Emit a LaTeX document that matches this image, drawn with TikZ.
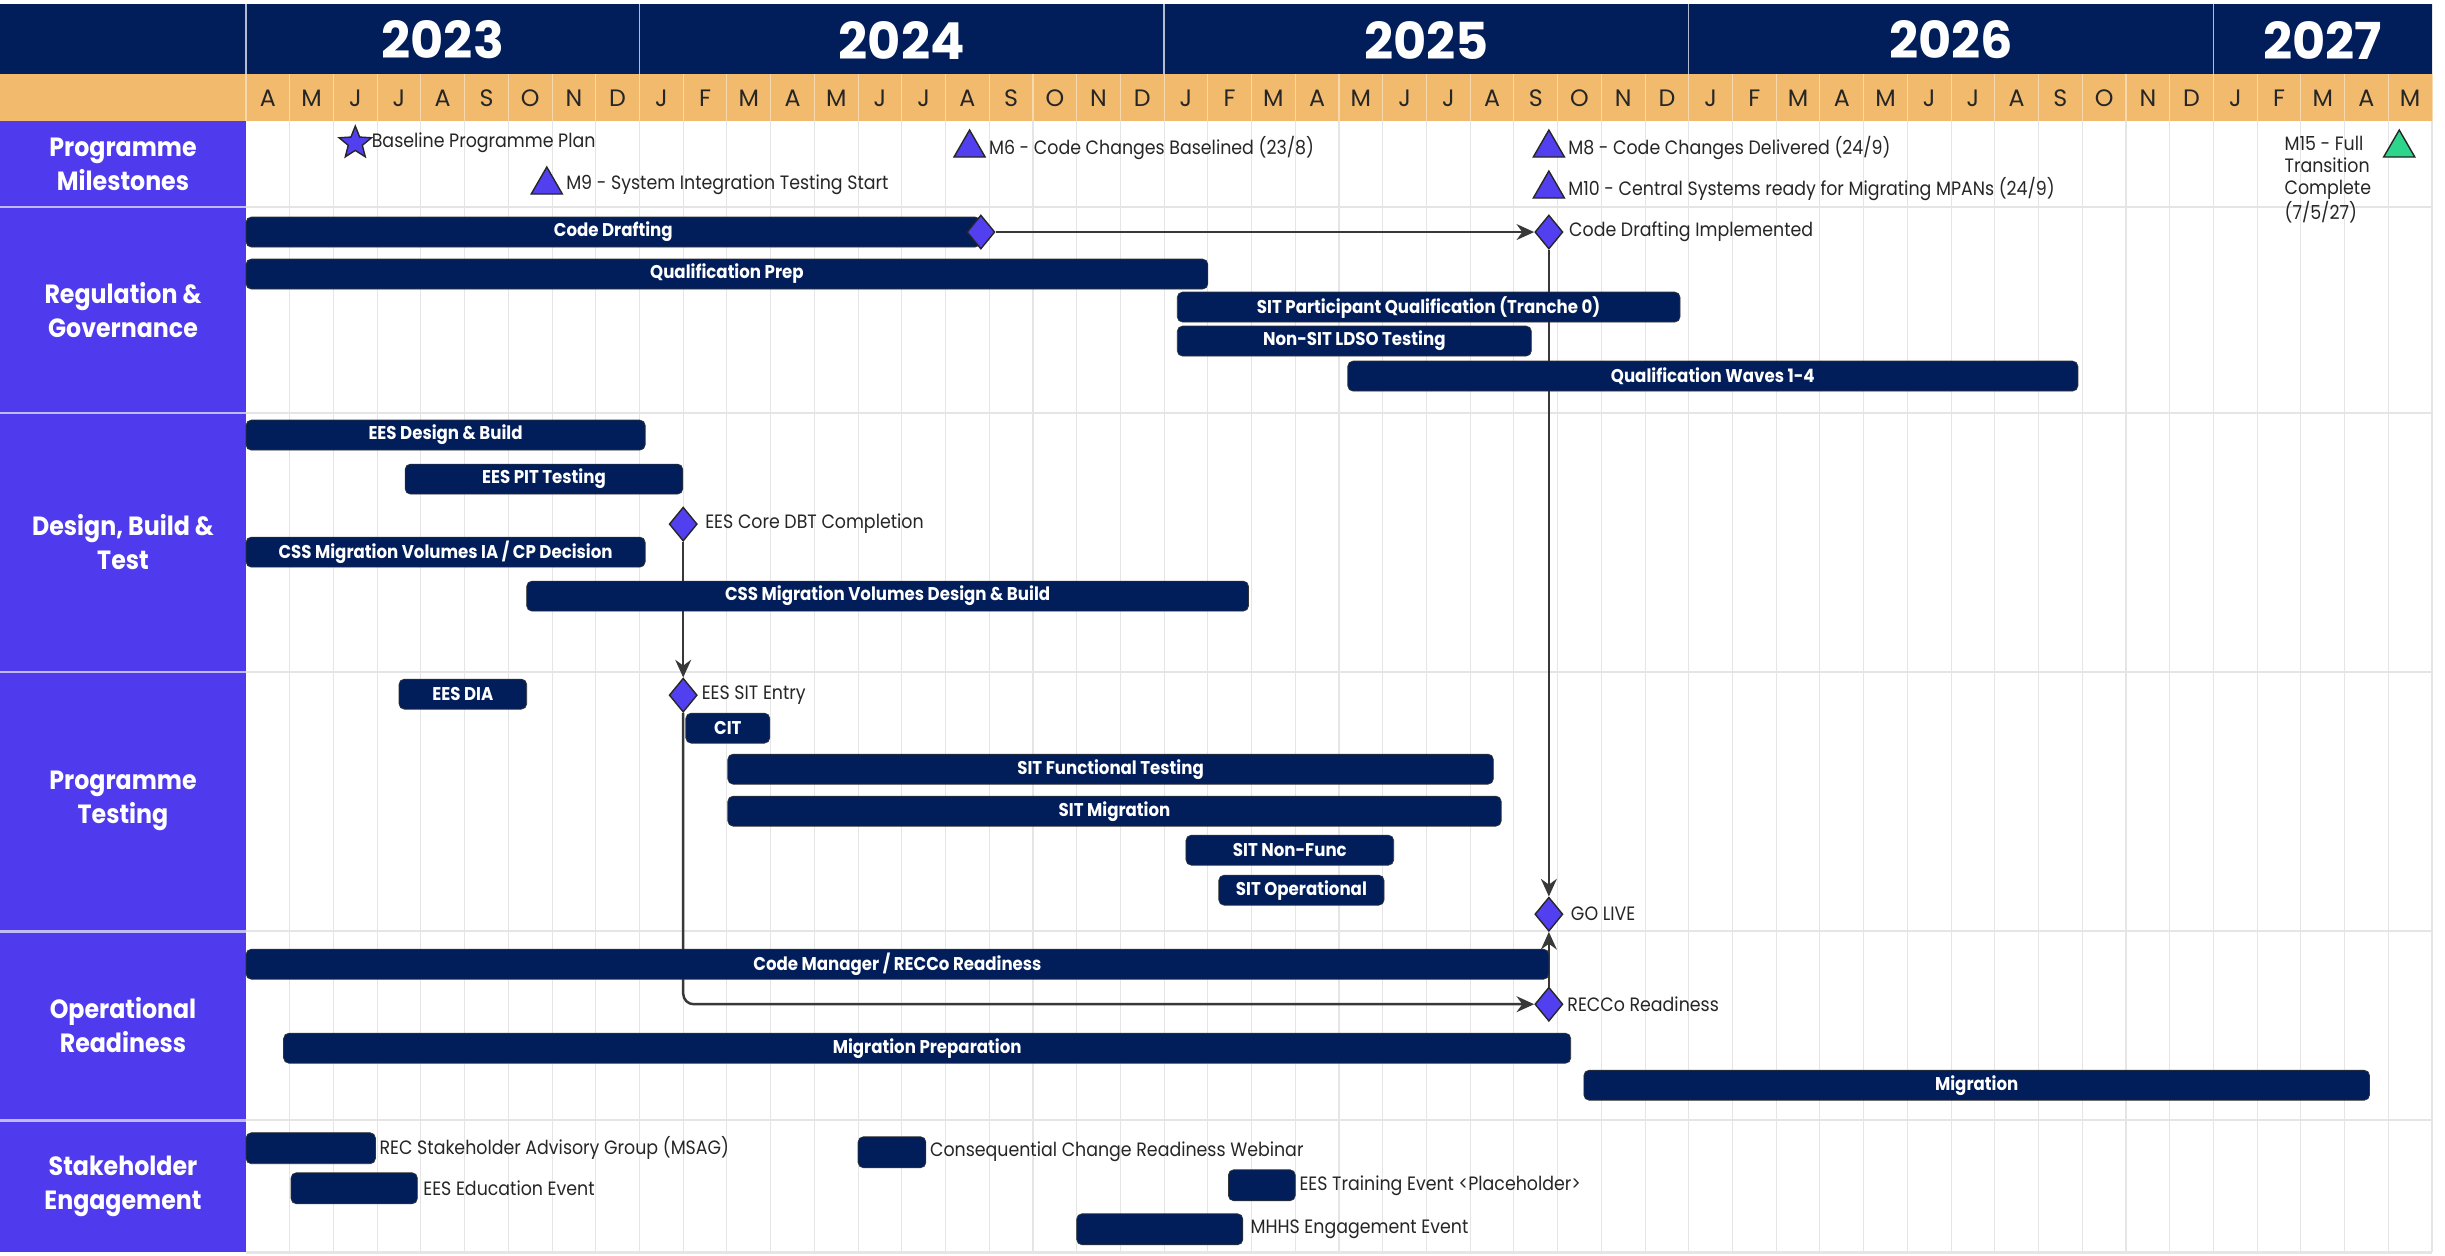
\documentclass[tikz,border=0pt]{standalone}
\usepackage{fontspec}
\setmainfont{Poppins}[FakeStretch=0.9]
\newfontfamily\widefont{Poppins}
\usetikzlibrary{arrows.meta}
\usetikzlibrary{shapes,positioning}
\usetikzlibrary{backgrounds}

\definecolor{navy}{RGB}{1,30,90}
\definecolor{sand}{RGB}{242,186,108}
\definecolor{lanepurple}{RGB}{79,58,237}
\definecolor{gatepurple}{RGB}{82,64,240}
\definecolor{mint}{RGB}{46,214,140}
\definecolor{gridgrey}{RGB}{229,229,229}
\definecolor{linkgrey}{RGB}{56,56,56}

\pgfdeclarelayer{back}
\pgfsetlayers{back,main}

\tikzset{
  lane/.style={text=white,align=center,font=\bfseries\fontsize{15}{19.5}\selectfont},
  year/.style={text=white,font=\widefont\bfseries\fontsize{29}{32}\selectfont},
  month/.style={text=black!85,font=\widefont\fontsize{13.5}{15}\selectfont},
  task/.style={draw=black!80,fill=navy,text=white,rounded corners=3pt,minimum height=0.6cm,inner sep=0pt,font=\bfseries\fontsize{10.5}{12}\selectfont},
  event/.style={task,minimum height=0.62cm},
  months/.style={minimum width=#1*0.8744cm},
  note/.style={text=black!85,inner sep=1pt,font=\fontsize{11}{12.4}\selectfont},
  gate/.style={diamond,draw=black!85,fill=gatepurple,line width=0.8pt,minimum width=0.56cm,minimum height=0.68cm,inner sep=0pt},
  flag/.style={regular polygon,regular polygon sides=3,draw=black!85,fill=gatepurple,line width=0.8pt,minimum size=0.72cm,inner sep=0pt},
  plan/.style={star,star points=5,star point ratio=2.3,draw=black!85,fill=gatepurple,line width=0.8pt,minimum size=0.68cm,inner sep=0pt},
  link/.style={draw=linkgrey,line width=1.4pt,-{Stealth[length=10pt,width=9pt]}}
}

\begin{document}
\begin{tikzpicture}[x=0.8744cm,y=-0.02cm]
\useasboundingbox (-5.6267,0) rectangle (50.297,1255);

\begin{pgfonlayer}{back}
\fill [white] (-5.6267,0) rectangle (50.297,1255);
\foreach \i in {1,...,49}
  \draw [gridgrey,line width=0.6pt] (\i,121) -- (\i,1252);
\foreach \y in {207,413,672,931,1120,1252}
  \draw [gridgrey,line width=1.4pt] (0,\y) -- (50,\y);
\draw [gridgrey,line width=1pt] (50,4) -- (50,1252);
\end{pgfonlayer}

\fill [navy] (-5.6267,4) rectangle (50,74);
\fill [sand] (-5.6267,74) rectangle (50,121);
\fill [lanepurple] (-5.6267,121) rectangle (0,1252);
\foreach \i in {0,...,50}
  \draw [sand!55!white,line width=0.6pt] (\i,74) -- (\i,121);
\foreach \i in {0,9,21,33,45}
  \draw [white!70!navy,line width=0.8pt] (\i,4) -- (\i,74);
\foreach \y in {207,413,672,931,1120}
  \draw [lanepurple!35,line width=1.5pt] (-5.6267,\y) -- (0,\y);

\foreach \c/\yr in {4.5/2023,15/2024,27/2025,39/2026,47.5/2027}
  \node [year] (y\yr) at (\c,40) {\yr};
\foreach \m [count=\i from 0] in {A,M,J,J,A,S,O,N,D,J,F,M,A,M,J,J,A,S,O,N,D,J,F,M,A,M,J,J,A,S,O,N,D,J,F,M,A,M,J,J,A,S,O,N,D,J,F,M,A,M}
  \node [month] (mon\i) at (\i+0.5,98) {\m};

\node [lane] (milestones) at (-2.8134,164) {Programme\\Milestones};
\node [lane] (regulation) at (-2.8134,310) {Regulation \&\\Governance};
\node [lane] (design) at (-2.8134,542) {Design, Build \&\\Test};
\node [lane] (testing) at (-2.8134,801) {Programme\\Testing};
\node [lane] (readiness) at (-2.8134,1025) {Operational\\Readiness};
\node [lane] (engagement) at (-2.8134,1186) {Stakeholder\\Engagement};

\node [plan] (baseline) at (2.5,143) {};
\node [note,right=2pt of baseline] (baselinetxt) {Baseline Programme Plan};
\node [flag] (mnine) at (6.88,185) {};
\node [note,right=3.5pt of mnine] (mninetxt) {M9 - System Integration Testing Start};
\node [flag] (msix) at (16.55,148) {};
\node [note,right=3.5pt of msix] (msixtxt) {M6 - Code Changes Baselined (23/8)};
\node [flag] (meight) at (29.8,148) {};
\node [note,right=3.5pt of meight] (meighttxt) {M8 - Code Changes Delivered (24/9)};
\node [flag] (mten) at (29.8,189) {};
\node [note,right=3.5pt of mten] (mtentxt) {M10 - Central Systems ready for Migrating MPANs (24/9)};
\node [flag,fill=mint] (mfifteen) at (49.25,148) {};
\node [note,align=left,anchor=north west,inner sep=0pt] (mfifteentxt) at (46.62,136) {M15 - Full\\Transition\\Complete\\(7/5/27)};

\node [task,months=16.8] (draft) at (8.4,232) {Code Drafting};
\node [gate] (draftend) at (draft.east) {};
\node [gate] (implemented) at (29.8,232) {};
\node [note,right=2pt of implemented] (implementedtxt) {Code Drafting Implemented};
\node [task,months=22] (qualprep) at (11,274) {Qualification Prep};
\node [task,months=11.5] (tranche) at (27.05,307) {SIT Participant Qualification (Tranche 0)};
\node [task,months=8.1] (ldso) at (25.35,341) {Non-SIT LDSO Testing};
\node [task,months=16.7] (waves) at (33.55,376) {Qualification Waves 1-4};

\node [task,months=9.13] (eesbuild) at (4.565,435) {EES Design \& Build};
\node [task,months=6.35] (eespit) at (6.815,479) {EES PIT Testing};
\node [gate] (dbt) at (10,524) {};
\node [note,right=3pt of dbt] (dbttxt) {EES Core DBT Completion};
\node [task,months=9.13] (cssia) at (4.565,552) {CSS Migration Volumes IA / CP Decision};
\node [task,months=16.51] (cssbuild) at (14.675,596) {CSS Migration Volumes Design \& Build};

\node [task,months=2.92] (eesdia) at (4.96,694) {EES DIA};
\node [gate] (sitentry) at (10,695) {};
\node [note,right=1pt of sitentry] (sitentrytxt) {EES SIT Entry};
\node [task,months=1.92] (cit) at (11.02,728) {CIT};
\node [task,months=17.51] (sitfunc) at (19.775,769) {SIT Functional Testing};
\node [task,months=17.69] (sitmig) at (19.865,811) {SIT Migration};
\node [task,months=4.75] (sitnonfunc) at (23.875,850) {SIT Non-Func};
\node [task,months=3.78] (sitops) at (24.14,890) {SIT Operational};
\node [gate] (golive) at (29.8,914) {};
\node [note,right=3pt of golive] (golivetxt) {GO LIVE};

\node [task,months=29.8] (codemgr) at (14.9,964) {Code Manager / RECCo Readiness};
\node [gate] (recco) at (29.8,1004) {};
\node [note,right=1pt of recco] (reccotxt) {RECCo Readiness};
\node [task,months=29.44] (migprep) at (15.58,1048) {Migration Preparation};
\node [task,months=17.97] (migration) at (39.585,1085) {Migration};

\node [event,months=2.96] (msag) at (1.48,1148) {};
\node [note,right=1pt of msag] (msagtxt) {REC Stakeholder Advisory Group (MSAG)};
\node [event,months=2.89] (education) at (2.475,1188) {};
\node [note,right=2pt of education] (educationtxt) {EES Education Event};
\node [event,months=1.55] (webinar) at (14.775,1152) {};
\node [note,right=1pt of webinar] (webinartxt) {Consequential Change Readiness Webinar};
\node [event,months=1.53] (training) at (23.235,1185) {};
\node [note,right=1pt of training] (trainingtxt) {EES Training Event <Placeholder>};
\node [event,months=3.8] (mhhs) at (20.9,1229) {};
\node [note,right=3pt of mhhs] (mhhstxt) {MHHS Engagement Event};

\begin{pgfonlayer}{back}
\draw [link] (draftend) -- (implemented);
\draw [link] (implemented) -- (golive);
\draw [link] (dbt) -- (sitentry);
\draw [link,rounded corners=6pt] (sitentry) |- (recco);
\draw [link] (recco) -- (golive);
\end{pgfonlayer}
\end{tikzpicture}
\end{document}
